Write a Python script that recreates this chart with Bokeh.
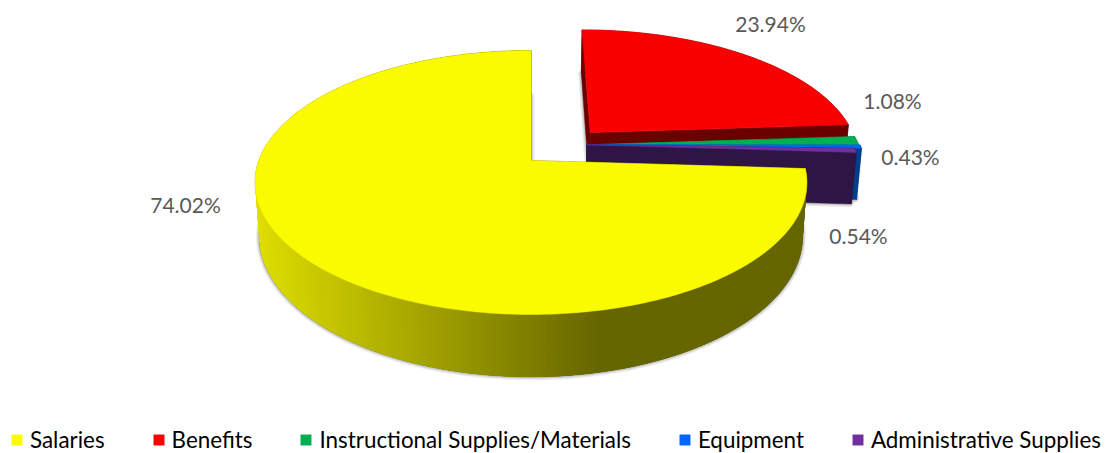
import numpy as np
from bokeh.plotting import figure
from bokeh.embed import file_html
from bokeh.resources import INLINE
from bokeh.models import Range1d, Legend, LegendItem
from bokeh.core.properties import value

categories = ["Salaries", "Benefits", "Instructional Supplies/Materials", "Equipment", "Administrative Supplies"]
shares = [74.02, 23.94, 1.08, 0.43, 0.54]
label_texts = ["74.02%", "23.94%", "1.08%", "0.43%", "0.54%"]

top_colors = ["#FBFB00", "#FB0000", "#00B050", "#0066FF", "#7030A0"]
radial_colors = ["#666600", "#6B0000", "#005C2A", "#003F8C", "#2E1545"]
outer_colors = ["#666600", "#6B0000", "#005C2A", "#003F8C", "#2E1545"]
explode = [(0, 0), (0.226, 0.226), (0.21, 0.125), (0.21, 0.125), (0.21, 0.125)]
radius_scale = [1, 1, 1.02, 1.025, 1.0]
label_x = [185, 770, 892, 910, 858]
label_y = [204, 23, 100, 156, 235]

W, H = 1109, 453
CX, CY, A, B, K = 530.5, 160, 272, 128.3, 1 / 6
DEPTH, SHRINK = 52, 0.985


def project(u, v):
    s = 1 / (1 + K * v)
    return CX + A * u * s, CY - B * v * s, s


def lower(x, y, s):
    return CX + (x - CX) * SHRINK, y + DEPTH * s


p = figure(width=W, height=H, output_backend="svg", toolbar_location=None,
           x_range=Range1d(0, W), y_range=Range1d(H, 0), min_border=0,
           outline_line_color=None, background_fill_color="white", border_fill_color="white")
p.axis.visible = False
p.grid.visible = False

fractions = np.array(shares) / sum(shares)
starts = (93.56 / 360 + np.concatenate([[0], np.cumsum(fractions)[:-1]])) % 1
slices = []
for i, frac in enumerate(fractions):
    th = np.radians(np.linspace(starts[i], starts[i] + frac, max(4, int(frac * 500))) * 360)
    ex, ev = explode[i]
    r = radius_scale[i]
    x, y, s = project(r * np.sin(th) + ex, r * np.cos(th) + ev)
    ax, ay, az = project(ex, ev)
    slices.append((th, x, y, s, ax, ay, az))

# soft shadow under every slice
for th, x, y, s, ax, ay, az in slices:
    bx, by = lower(x, y, s)
    b0x, b0y = lower(ax, ay, az)
    for lw, alpha in [(7, 0.07), (5, 0.1), (3, 0.14)]:
        p.patch(np.r_[b0x, bx], np.r_[b0y, by], fill_color=None, line_color="#404040", line_alpha=alpha, line_width=lw)

legend_renderers = {}
for i in [1, 2, 3, 4, 0]:
    th, x, y, s, ax, ay, az = slices[i]
    bx, by = lower(x, y, s)
    b0x, b0y = lower(ax, ay, az)
    for j in (0, -1):
        p.patch([ax, x[j], bx[j], b0x], [ay, y[j], by[j], b0y], fill_color=radial_colors[i], line_color=radial_colors[i], line_width=0.5)
    if i == 0:
        # one solid base wall, then the shaded strips painted from a wide overlap
        p.patch(np.r_[x, bx[::-1]], np.r_[y, by[::-1]], fill_color="#666600", line_color="#666600", line_width=0.5)
        tt = np.clip((x - 255) / (600 - 255), 0, 1)
        for j in range(len(x) - 1):
            k = min(j + 3, len(x) - 1)
            c = int(round(222 + (102 - 222) * tt[j]))
            col = "#%02x%02x00" % (c, c)
            p.patch([x[j], x[k], bx[k], bx[j]], [y[j], y[k], by[k], by[j]],
                    fill_color=col, line_color=None)
    else:
        p.patch(np.r_[x, bx[::-1]], np.r_[y, by[::-1]], fill_color=outer_colors[i], line_color=outer_colors[i], line_width=0.5)
    legend_renderers[i] = p.patch(np.r_[ax, x], np.r_[ay, y], fill_color=top_colors[i], line_color=top_colors[i], line_width=0.5)

p.text(label_x, label_y, text=label_texts, text_font=value("Lato"), text_font_size="21px",
       text_color="#595959", text_align="center", text_baseline="middle")

legend = Legend(items=[LegendItem(label=c, renderers=[legend_renderers[i]]) for i, c in enumerate(categories)],
                orientation="horizontal", location=(10, 0), margin=0, padding=0, spacing=47,
                glyph_width=13, glyph_height=13, label_standoff=7, label_height=22,
                label_text_font="Lato", label_text_font_size="22.4px", label_text_color="#000000",
                border_line_color=None, background_fill_alpha=0)
p.add_layout(legend, "center")

open("out.html", "w").write(file_html(p, INLINE))
